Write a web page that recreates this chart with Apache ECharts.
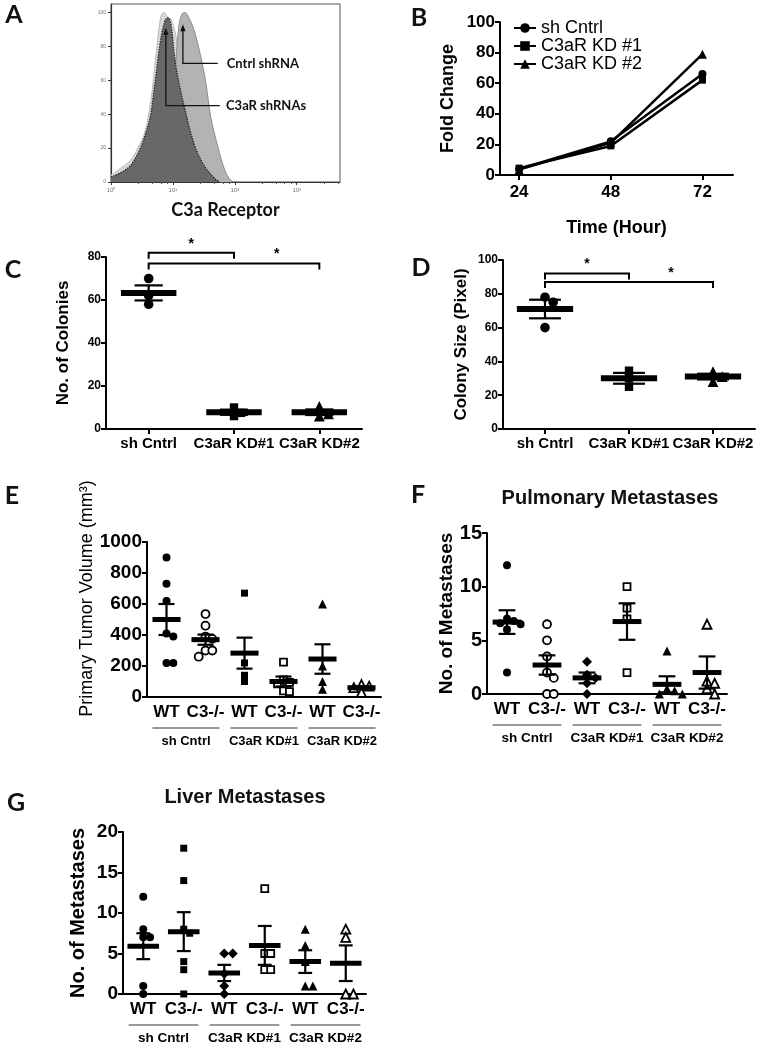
<!DOCTYPE html>
<html><head><meta charset="utf-8">
<script src="https://cdn.jsdelivr.net/npm/echarts@6.0.0/dist/echarts.min.js"></script>
<style>html,body{margin:0;padding:0;background:#fff;}#chart{width:760px;height:1050px;}</style>
</head><body><div id="chart"></div><script>
// ================= DATA =================
// A: flow cytometry histograms (x: C3a receptor intensity, log; y: % of max)
const histC3aR1X = [1, 1.3, 2.1, 2.7, 3.5, 4.4, 5.3, 6.4, 7.2, 8.3, 9.3, 11.2, 13.5, 17.5, 23.5, 34, 49, 64];
const histC3aR1Y = [4, 7, 13, 20, 29, 48, 74, 98, 100, 97, 96, 86, 62, 38, 18, 6, 1, 0];
const histCntrlX = [1, 2.1, 3.95, 5.7, 8.3, 10.4, 11.2, 12.5, 14, 15.6, 17.5, 22.7, 32.8, 41, 53, 69, 86, 112];
const histCntrlY = [2, 5, 12, 25, 45, 60, 72, 92, 99, 100, 98, 88, 62, 38, 21, 7, 1, 0];
const histC3aR2X = [1, 2.1, 3.95, 5.1, 6.2, 7.4, 8.3, 9.3, 11.2, 15.6, 22.7, 32.8, 47.6, 57];
const histC3aR2Y = [3, 10, 33, 58, 82, 95, 97, 93, 68, 43, 21, 9, 2, 0];
const histTicks = [1, 10, 100, 1000];
const histYTicks = [0, 20, 40, 60, 80, 100];
// A annotations (data space): label, leader level (y), arrow x, arrow tip (y), leader start x, text x
const annLabels = ['Cntrl shRNA', 'C3aR shRNAs'];
const annLevel = [70, 45];
const annArrowX = [14.5, 7.7];
const annTip = [93, 91];
const annLeadX = [53, 57];
const annTextX = [74, 72];

// B: proliferation
const timeHours = [24, 48, 72];
const bNames = ['sh Cntrl', 'C3aR KD #1', 'C3aR KD #2'];
const foldShCntrl = [4, 22, 66];
const foldKD1 = [4.5, 19, 62];
const foldKD2 = [3.5, 21, 79];

// C / D: colonies
const cellGroups = ['sh Cntrl', 'C3aR KD#1', 'C3aR KD#2'];
const coloniesPts = [[70, 62, 58], [10, 7.5, 6], [10.5, 7, 6]];
const coloniesMean = [63.3, 7.8, 7.8];
const coloniesSem = [3.5, 1.2, 1.3];
const coloniesSigFrom = [0, 0], coloniesSigTo = [1, 2], coloniesSigY = [82, 77];
const coloniesStarL = [0, 1], coloniesStarR = [1, 2];

const sizePts = [[78, 75, 60], [34.5, 30, 25], [34, 31, 28]];
const sizeMean = [71, 30, 31];
const sizeSem = [5.5, 3.2, 1.7];
const sizeSigFrom = [0, 0], sizeSigTo = [1, 2], sizeSigY = [92, 87];
const sizeStarL = [0, 1], sizeStarR = [1, 2];

// E / F / G: in vivo
const mouseCats = ['WT', 'C3-/-', 'WT', 'C3-/-', 'WT', 'C3-/-'];
const lineGroups = ['sh Cntrl', 'C3aR KD#1', 'C3aR KD#2'];
const tumorPts = [[900, 730, 620, 410, 390, 220, 220], [535, 460, 390, 375, 300, 300, 260], [670, 220, 140, 100], [225, 110, 95, 85, 40, 35], [600, 200, 100, 50], [80, 70, 60, 30]];
const tumorMean = [500, 370, 283, 100, 245, 60];
const tumorSem = [100, 33, 100, 32, 95, 10];
const pulmPts = [[12, 7, 6.8, 6.6, 6.5, 6, 2], [6.5, 5, 3.5, 2, 1.5, 0, 0], [3, 1.8, 1.5, 1, 0], [10, 8, 7, 2], [4, 0.5, 0.3, 0, 0], [6.5, 1.2, 1, 0.5, 0]];
const pulmMean = [6.7, 2.7, 1.5, 6.75, 0.9, 2.0];
const pulmSem = [1.1, 0.9, 0.5, 1.7, 0.75, 1.5];
const liverPts = [[12, 8, 7, 7, 1, 0], [18, 14, 8, 7.5, 4, 3, 0], [5, 5, 2.5, 1, 0], [13, 5, 5, 3, 3], [8, 6, 4, 1, 1], [8, 7, 0, 0]];
const liverMean = [5.9, 7.7, 2.6, 6.0, 4.0, 3.8];
const liverSem = [1.6, 2.4, 1.0, 2.4, 1.4, 2.2];

// ================= CHART =================
const AF = "'Liberation Sans', Arial, sans-serif";
const CF = "Lato, 'Open Sans', sans-serif";
const chart = echarts.init(document.getElementById('chart'), null, {renderer: 'canvas', width: 760, height: 1050});

const gridBoxes = [
  {left: 111, top: 4, width: 229, height: 178, show: true, borderColor: '#555', borderWidth: 1},
  {left: 500, top: 22, width: 233, height: 153},
  {left: 106, top: 257, width: 256, height: 172},
  {left: 503, top: 260, width: 252, height: 169},
  {left: 147, top: 542, width: 234, height: 155},
  {left: 487, top: 533, width: 240, height: 161},
  {left: 123, top: 832, width: 243, height: 162}
].map(g => Object.assign({outerBoundsMode: 'none', containLabel: false}, g));

const blackLine = {show: true, lineStyle: {color: '#000', width: 2}};
const tickOut = {show: true, length: 5, lineStyle: {color: '#000', width: 2}};
const plain = v => String(v);

function valueY(gi, max, interval, fs, name, nameFs, nameGap, extra) {
  return Object.assign({
    type: 'value', gridIndex: gi, min: 0, max: max, interval: interval,
    axisLine: blackLine, axisTick: tickOut, splitLine: {show: false},
    axisLabel: {color: '#000', fontFamily: AF, fontWeight: 'bold', fontSize: fs, margin: 5, formatter: plain},
    name: name, nameLocation: 'middle', nameGap: nameGap, nameRotate: 90,
    nameTextStyle: {color: '#000', fontFamily: AF, fontWeight: 'bold', fontSize: nameFs}
  }, extra || {});
}
function catX(gi, cats, fs, ticks) {
  return {
    type: 'category', gridIndex: gi, data: cats, boundaryGap: true,
    axisLine: blackLine,
    axisTick: ticks ? {show: true, alignWithLabel: true, length: 5, lineStyle: {color: '#000', width: 2}} : {show: false},
    axisLabel: {color: '#000', fontFamily: AF, fontWeight: 'bold', fontSize: fs, margin: 7, interval: 0},
    splitLine: {show: false}
  };
}
const sup = {0: '\u2070', 1: '\u00b9', 2: '\u00b2', 3: '\u00b3', 4: '\u2074'};

const xAxes = [
  {type: 'log', logBase: 10, gridIndex: 0, min: 1, max: 5000,
   axisLine: {show: true, lineStyle: {color: '#333', width: 1.2}},
   axisTick: {show: true, length: 3, customValues: histTicks, lineStyle: {color: '#333'}},
   minorTick: {show: true, length: 2, splitNumber: 5, lineStyle: {color: '#555'}},
   axisLabel: {customValues: histTicks, fontSize: 6, color: '#777', margin: 5,
     formatter: v => '10' + sup[Math.round(Math.log10(v))]},
   splitLine: {show: false},
   name: 'C3a Receptor', nameLocation: 'middle', nameGap: 19,
   nameTextStyle: {color: '#111', fontFamily: CF, fontWeight: 'bold', fontSize: 18}},
  {type: 'value', gridIndex: 1, min: 19, max: 80,
   axisLine: blackLine, axisTick: Object.assign({customValues: timeHours}, tickOut), splitLine: {show: false},
   axisLabel: {customValues: timeHours, color: '#000', fontFamily: AF, fontWeight: 'bold', fontSize: 17, margin: 9},
   name: 'Time (Hour)', nameLocation: 'middle', nameGap: 44,
   nameTextStyle: {color: '#000', fontFamily: AF, fontWeight: 'bold', fontSize: 18}},
  catX(2, cellGroups, 15, true),
  catX(3, cellGroups, 15, true),
  catX(4, mouseCats, 17, false),
  catX(5, mouseCats, 17, false),
  catX(6, mouseCats, 17, false)
];

const yAxes = [
  {type: 'value', gridIndex: 0, min: 0, max: 105,
   axisLine: {show: true, lineStyle: {color: '#333', width: 1.2}},
   axisTick: {show: true, length: 3, customValues: histYTicks, lineStyle: {color: '#333'}},
   axisLabel: {customValues: histYTicks, fontSize: 5, color: '#777', margin: 5},
   splitLine: {show: false}},
  valueY(1, 100, 20, 17, 'Fold Change', 18, 43),
  valueY(2, 80, 20, 12, 'No. of Colonies', 17, 34),
  valueY(3, 100, 20, 12, 'Colony Size (Pixel)', 17, 33),
  valueY(4, 1000, 200, 19, 'Primary Tumor Volume (mm\u00b3)', 18, 42,
    {nameTextStyle: {color: '#000', fontFamily: AF, fontWeight: 'normal', fontSize: 18, padding: [0, 0, 0, 42]}}),
  valueY(5, 15, 5, 20, 'No. of Metastases', 19, 25),
  valueY(6, 20, 5, 19, 'No. of Metastases', 20, 35)
];

// ---- helpers ----
function swarmOffsets(vals, pxPerUnit, size) {
  const placed = [];
  return vals.map(v => {
    const y = v * pxPerUnit;
    for (let k = 0; k < 14; k++) {
      const dx = k === 0 ? 0 : (k % 2 ? 1 : -1) * Math.ceil(k / 2) * size;
      if (placed.every(p => Math.hypot(p.dx - dx, p.y - y) >= size * 0.95)) {
        placed.push({dx, y});
        return dx;
      }
    }
    return 0;
  });
}
const symSize = {circle: 8, rect: 7, triangle: 9, diamond: 10};
function dotSeries(gi, pts, shapes, filled, scale, pxPerUnit) {
  return pts.map((vals, g) => {
    const size = symSize[shapes[g]] * scale;
    const off = swarmOffsets(vals, pxPerUnit, size * 0.85);
    return {
      type: 'scatter', xAxisIndex: gi, yAxisIndex: gi, symbol: shapes[g], symbolSize: size,
      z: 3, silent: true, clip: false,
      itemStyle: filled[g] ? {color: '#000', opacity: 1} : {color: '#fff', borderColor: '#000', borderWidth: 1.8, opacity: 1},
      data: vals.map((v, k) => ({value: [g, v], symbolOffset: [off[k], 0]}))
    };
  });
}
function errSeries(gi, means, sems, meanW, capW, meanLW) {
  return {
    type: 'custom', xAxisIndex: gi, yAxisIndex: gi, z: 5, silent: true,
    data: means.map((m, i) => [i, m, sems[i]]),
    renderItem: (params, api) => {
      const i = api.value(0), m = api.value(1), s = api.value(2);
      const c = api.coord([i, m]), t = api.coord([i, m + s]), b = api.coord([i, m - s]);
      const band = api.size([1, 0])[0];
      const st = {stroke: '#000', lineWidth: 2.2};
      return {type: 'group', children: [
        {type: 'line', shape: {x1: c[0], y1: t[1], x2: c[0], y2: b[1]}, style: st},
        {type: 'line', shape: {x1: c[0] - capW * band / 2, y1: t[1], x2: c[0] + capW * band / 2, y2: t[1]}, style: st},
        {type: 'line', shape: {x1: c[0] - capW * band / 2, y1: b[1], x2: c[0] + capW * band / 2, y2: b[1]}, style: st},
        {type: 'line', shape: {x1: c[0] - meanW * band / 2, y1: c[1], x2: c[0] + meanW * band / 2, y2: c[1]}, style: {stroke: '#000', lineWidth: meanLW}}
      ]};
    }
  };
}
function bracketSeries(gi, from, to, ys, starL, starR) {
  return {
    type: 'custom', xAxisIndex: gi, yAxisIndex: gi, z: 6, silent: true,
    data: from.map((f, i) => [f, ys[i], to[i], starL[i], starR[i]]),
    renderItem: (params, api) => {
      const y = api.value(1);
      const p1 = api.coord([api.value(0), y]), p2 = api.coord([api.value(2), y]);
      const sl = api.coord([api.value(3), y]), sr = api.coord([api.value(4), y]);
      return {type: 'group', children: [
        {type: 'polyline', shape: {points: [[p1[0], p1[1] + 6], [p1[0], p1[1]], [p2[0], p2[1]], [p2[0], p2[1] + 6]]},
         style: {stroke: '#000', lineWidth: 2, fill: null}},
        {type: 'text', x: (sl[0] + sr[0]) / 2, y: p1[1] - 9,
         style: {text: '*', align: 'center', verticalAlign: 'middle', font: 'bold 14px ' + AF, fill: '#000'}}
      ]};
    }
  };
}
function groupSeries(gi, fs) {
  return {
    type: 'custom', xAxisIndex: gi, yAxisIndex: gi, silent: true,
    data: lineGroups.map((g, i) => [2 * i, 2 * i + 1]),
    renderItem: (params, api) => {
      const a = api.coord([api.value(0), 0]), b = api.coord([api.value(1), 0]);
      const band = api.size([1, 0])[0];
      const y = a[1];
      return {type: 'group', children: [
        {type: 'line', shape: {x1: a[0] - 0.36 * band, y1: y + 31, x2: b[0] + 0.36 * band, y2: y + 31}, style: {stroke: '#333', lineWidth: 1}},
        {type: 'text', x: (a[0] + b[0]) / 2, y: y + 44,
         style: {text: lineGroups[params.dataIndex], align: 'center', verticalAlign: 'middle', font: 'bold ' + fs + 'px ' + AF, fill: '#000'}}
      ]};
    }
  };
}
function histSeries(name, xs, ys, area, line, lineType, lw, z) {
  return {
    type: 'line', name: name, xAxisIndex: 0, yAxisIndex: 0, smooth: 0.35, showSymbol: false, silent: true, z: z,
    data: xs.map((x, i) => [x, ys[i]]),
    lineStyle: {color: line, width: lw, type: lineType},
    areaStyle: {color: area, opacity: 1}
  };
}
const annSeries = {
  type: 'custom', xAxisIndex: 0, yAxisIndex: 0, z: 10, silent: true,
  data: annLabels.map((l, i) => [annLeadX[i], annLevel[i], annArrowX[i], annTip[i], annTextX[i]]),
  renderItem: (params, api) => {
    const lead = api.coord([api.value(0), api.value(1)]);
    const corner = api.coord([api.value(2), api.value(1)]);
    const tip = api.coord([api.value(2), api.value(3)]);
    const tx = api.coord([api.value(4), api.value(1)]);
    return {type: 'group', children: [
      {type: 'polyline', shape: {points: [lead, corner, [tip[0], tip[1] + 5]]}, style: {stroke: '#111', lineWidth: 1.3, fill: null}},
      {type: 'polygon', shape: {points: [[tip[0], tip[1]], [tip[0] - 2.6, tip[1] + 7], [tip[0] + 2.6, tip[1] + 7]]}, style: {fill: '#111'}},
      {type: 'text', x: tx[0], y: tx[1], style: {text: annLabels[params.dataIndex], align: 'left', verticalAlign: 'middle', font: 'bold 13px ' + CF, fill: '#111'}}
    ]};
  }
};

const lineB = (name, vals, sym, size) => ({
  type: 'line', name: name, xAxisIndex: 1, yAxisIndex: 1, data: timeHours.map((t, i) => [t, vals[i]]),
  symbol: sym, symbolSize: size, showSymbol: true, silent: true,
  lineStyle: {color: '#000', width: 2.5}, itemStyle: {color: '#000', opacity: 1}
});

const circ = 'circle', sq = 'rect', tri = 'triangle', dia = 'diamond';
const series = [
  histSeries('C3aR shRNA 1', histC3aR1X, histC3aR1Y, '#dadada', '#b9b9b9', 'solid', 1, 2),
  histSeries('Cntrl shRNA', histCntrlX, histCntrlY, '#b3b3b3', '#8c8c8c', 'solid', 1, 3),
  histSeries('C3aR shRNA 2', histC3aR2X, histC3aR2Y, '#686868', '#1e1e1e', 'dotted', 1.3, 4),
  annSeries,
  lineB(bNames[0], foldShCntrl, circ, 8),
  lineB(bNames[1], foldKD1, sq, 7),
  lineB(bNames[2], foldKD2, tri, 9),
  ...dotSeries(2, coloniesPts, [circ, sq, tri], [true, true, true], 1.2, 172 / 80),
  errSeries(2, coloniesMean, coloniesSem, 0.65, 0.33, 6),
  bracketSeries(2, coloniesSigFrom, coloniesSigTo, coloniesSigY, coloniesStarL, coloniesStarR),
  ...dotSeries(3, sizePts, [circ, sq, tri], [true, true, true], 1.2, 169 / 100),
  errSeries(3, sizeMean, sizeSem, 0.67, 0.38, 6),
  bracketSeries(3, sizeSigFrom, sizeSigTo, sizeSigY, sizeStarL, sizeStarR),
  ...dotSeries(4, tumorPts, [circ, circ, sq, sq, tri, tri], [true, false, true, false, true, false], 1, 155 / 1000),
  errSeries(4, tumorMean, tumorSem, 0.72, 0.41, 5),
  groupSeries(4, 13),
  ...dotSeries(5, pulmPts, [circ, circ, dia, sq, tri, tri], [true, false, true, false, true, false], 1, 161 / 15),
  errSeries(5, pulmMean, pulmSem, 0.72, 0.42, 5),
  groupSeries(5, 13.5),
  ...dotSeries(6, liverPts, [circ, sq, dia, sq, tri, tri], [true, true, true, false, true, false], 1, 162 / 20),
  errSeries(6, liverMean, liverSem, 0.78, 0.34, 5),
  groupSeries(6, 13.5)
];

const letter = (t, x, y) => ({type: 'text', x: x, y: y, style: {text: t, font: 'bold 25px ' + CF, fill: '#111', align: 'center', verticalAlign: 'middle'}});
const title = (t, x, y) => ({type: 'text', x: x, y: y, style: {text: t, font: 'bold 20px ' + AF, fill: '#111', align: 'center', verticalAlign: 'middle'}});

chart.setOption({
  animation: false,
  backgroundColor: '#fff',
  grid: gridBoxes,
  xAxis: xAxes,
  yAxis: yAxes,
  legend: {
    data: bNames, orient: 'vertical', left: 508, top: 14, itemGap: 0, itemWidth: 22, itemHeight: 12,
    textStyle: {color: '#000', fontFamily: AF, fontSize: 18, lineHeight: 18}, selectedMode: false
  },
  graphic: [
    letter('A', 14, 15), letter('B', 419, 18), letter('C', 13, 270), letter('D', 421, 268),
    letter('E', 12, 496), letter('F', 418, 495), letter('G', 16, 803),
    title('Pulmonary Metastases', 610, 498), title('Liver Metastases', 245, 797)
  ],
  series: series
});
</script></body></html>
